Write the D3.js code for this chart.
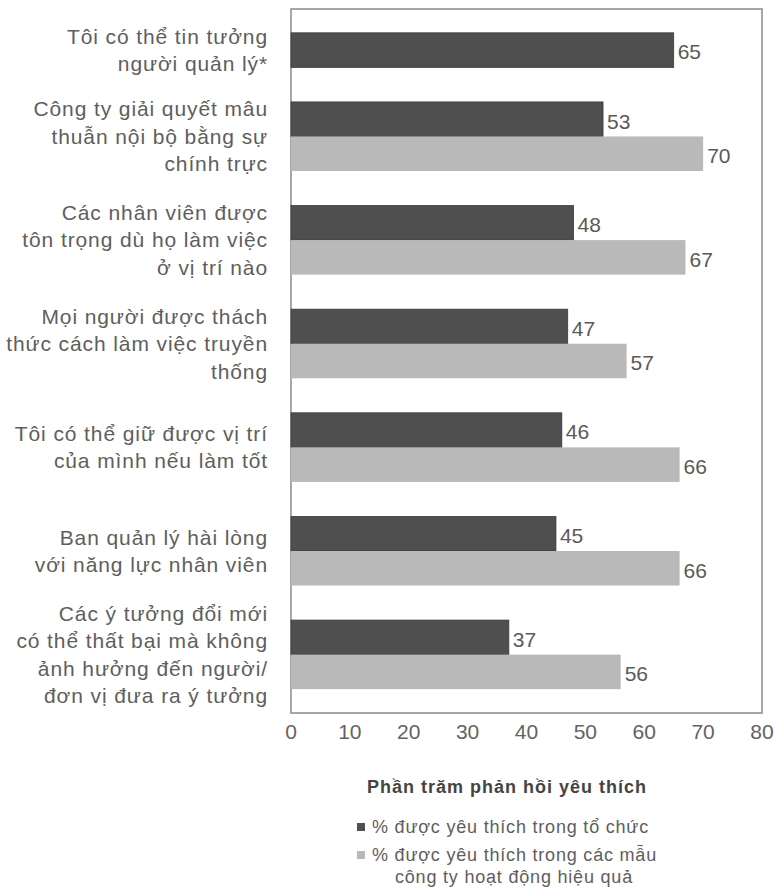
<!DOCTYPE html>
<html><head><meta charset="utf-8">
<script src="https://cdn.jsdelivr.net/npm/d3@7/dist/d3.min.js"></script>
<style>
html,body{margin:0;padding:0;background:#fff;}
svg{display:block;}
text{font-family:"Liberation Sans",Arial,sans-serif;}
</style></head>
<body>
<script>
const categories = [
  "Tôi có thể tin tưởng\nngười quản lý*",
  "Công ty giải quyết mâu\nthuẫn nội bộ bằng sự\nchính trực",
  "Các nhân viên được\ntôn trọng dù họ làm việc\nở vị trí nào",
  "Mọi người được thách\nthức cách làm việc truyền\nthống",
  "Tôi có thể giữ được vị trí\ncủa mình nếu làm tốt",
  "Ban quản lý hài lòng\nvới năng lực nhân viên",
  "Các ý tưởng đổi mới\ncó thể thất bại mà không\nảnh hưởng đến người/\nđơn vị đưa ra ý tưởng"
];
const orgValues = [65, 53, 48, 47, 46, 45, 37];
const benchValues = [null, 70, 67, 57, 66, 66, 56];
const xTicks = [0, 10, 20, 30, 40, 50, 60, 70, 80];
const seriesNames = ["% được yêu thích trong tổ chức", "% được yêu thích trong các mẫu\ncông ty hoạt động hiệu quả"];
const seriesColors = ["#4f4f4f", "#b9b9b9"];
const axisTitle = "Phần trăm phản hồi yêu thích";

const W = 777, H = 888;
const plot = {left: 291, right: 762, top: 9, bottom: 713};
const svg = d3.select("body").append("svg").attr("width", W).attr("height", H);

const x = d3.scaleLinear().domain([0, 80]).range([plot.left, plot.right]);

// slots: one per bar, with a gap slot between groups
const slots = [];
const bars = [];
categories.forEach((c, i) => {
  if (i > 0) slots.push(i + "-gap");
  [orgValues[i], benchValues[i]].forEach((v, s) => {
    if (v != null) { slots.push(i + "-" + s); bars.push({i, s, v}); }
  });
});
const y = d3.scaleBand().domain(slots).range([plot.top, plot.bottom]).paddingInner(0).paddingOuter(0.69);

// frame
svg.append("rect").attr("x", plot.left).attr("y", plot.top)
  .attr("width", plot.right - plot.left).attr("height", plot.bottom - plot.top)
  .attr("fill", "none").attr("stroke", "#8a8a8a").attr("stroke-width", 1.5);

// bars
svg.selectAll("rect.bar").data(bars).join("rect").attr("class", "bar")
  .attr("x", x(0)).attr("y", d => y(d.i + "-" + d.s))
  .attr("width", d => x(d.v) - x(0)).attr("height", y.bandwidth())
  .attr("fill", d => seriesColors[d.s])
  .attr("stroke", d => d.s === 0 ? "#3a3a3a" : "none").attr("stroke-width", 0.8);

// value labels
svg.selectAll("text.val").data(bars).join("text").attr("class", "val")
  .attr("x", d => x(d.v) + 4).attr("y", d => y(d.i + "-" + d.s) + y.bandwidth() / 2 + 2)
  .attr("dy", "0.35em").attr("font-size", 21).attr("fill", "#5a5a5a").text(d => d.v);

// category labels
categories.forEach((c, i) => {
  const gb = bars.filter(b => b.i === i);
  const top = y(gb[0].i + "-" + gb[0].s);
  const bot = y(gb[gb.length - 1].i + "-" + gb[gb.length - 1].s) + y.bandwidth();
  const cy = (top + bot) / 2;
  const lines = c.split("\n");
  const lh = 27.5;
  const t = svg.append("text").attr("text-anchor", "end").attr("font-size", 21)
    .attr("fill", "#5e5e5e").attr("letter-spacing", 0.9);
  lines.forEach((l, k) => {
    t.append("tspan").attr("x", 268).attr("y", cy + (k - (lines.length - 1) / 2) * lh)
      .attr("dy", "0.35em").text(l);
  });
});

// x tick labels
svg.selectAll("text.tick").data(xTicks).join("text").attr("class", "tick")
  .attr("x", d => x(d)).attr("y", 732).attr("dy", "0.35em")
  .attr("text-anchor", "middle").attr("font-size", 21).attr("fill", "#636363")
  .text(d => d);

// axis title
svg.append("text").attr("x", 507).attr("y", 787).attr("dy", "0.35em")
  .attr("text-anchor", "middle").attr("font-size", 18).attr("font-weight", "bold")
  .attr("fill", "#444").attr("letter-spacing", 1.0).text(axisTitle);

// legend
const legY = [827, 855];
seriesNames.forEach((n, s) => {
  svg.append("rect").attr("x", 357).attr("y", legY[s] - 4).attr("width", 8).attr("height", 8)
    .attr("fill", seriesColors[s]);
  const lines = n.split("\n");
  const t = svg.append("text").attr("font-size", 18).attr("fill", "#5e5e5e").attr("letter-spacing", 0.8);
  lines.forEach((l, k) => {
    t.append("tspan").attr("x", k === 0 ? 372 : 395).attr("y", legY[s] + k * 22).attr("dy", "0.35em").text(l);
  });
});
</script>
</body></html>
